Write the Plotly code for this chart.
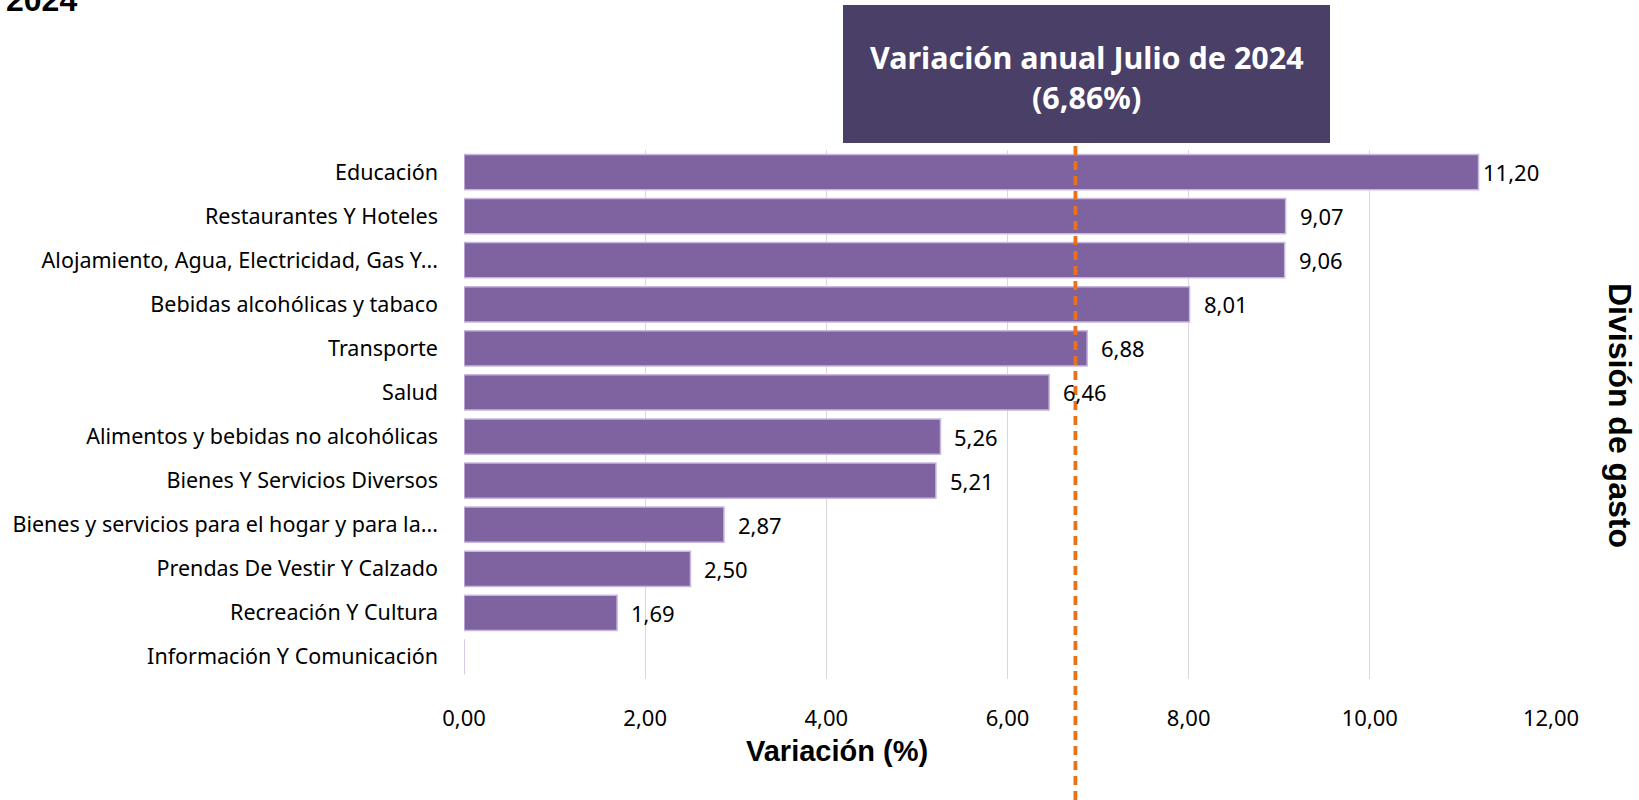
import plotly.graph_objects as go

categories = [
    "Educación",
    "Restaurantes Y Hoteles",
    "Alojamiento, Agua, Electricidad, Gas Y...",
    "Bebidas alcohólicas y tabaco",
    "Transporte",
    "Salud",
    "Alimentos y bebidas no alcohólicas",
    "Bienes Y Servicios Diversos",
    "Bienes y servicios para el hogar y para la...",
    "Prendas De Vestir Y Calzado",
    "Recreación Y Cultura",
    "Información Y Comunicación",
]
values = [11.20, 9.07, 9.06, 8.01, 6.88, 6.46, 5.26, 5.21, 2.87, 2.50, 1.69, 0.0]
x_ticks = [0, 2, 4, 6, 8, 10, 12]
x_tick_labels = ["0,00", "2,00", "4,00", "6,00", "8,00", "10,00", "12,00"]
annual_label = "Variación anual Julio de 2024"
annual_value_label = "(6,86%)"
ref_line_x = 6.75  # position of the dashed line as drawn in the reference

BAR = "#7F63A0"
BOX = "#4A3F67"
ORANGE = "#E8711A"
FONT = "Noto Sans"
BOLD = "Liberation Sans"

W, H = 1639, 800
PX0, PX1, PY0, PY1 = 464, 1551, 150, 679
PW, PH = PX1 - PX0, PY1 - PY0


def fx(sx):
    return (sx - PX0) / PW


def fy(sy):
    return (PY1 - sy) / PH


fig = go.Figure()
fig.add_trace(go.Bar(
    y=categories, x=values, orientation="h",
    marker=dict(color=BAR, line=dict(color="#C9B8DE", width=1.5)),
    hoverinfo="skip", showlegend=False,
))

annotations = []
for c, v in zip(categories, values):
    if v <= 0:
        continue
    annotations.append(dict(
        x=v, y=c, xref="x", yref="y", text=f"{v:.2f}".replace(".", ","),
        showarrow=False, xanchor="left", yanchor="middle",
        xshift=2 if v > 11 else 12,
        font=dict(family=FONT, size=22, color="#000000"),
    ))

# title box text
annotations.append(dict(x=fx(1086.5), y=fy(57), xref="paper", yref="paper",
                        text=f"<b>{annual_label}</b>", showarrow=False,
                        xanchor="center", yanchor="middle",
                        font=dict(family=FONT, size=30.5, color="#FFFFFF")))
annotations.append(dict(x=fx(1086.5), y=fy(97), xref="paper", yref="paper",
                        text=f"<b>{annual_value_label}</b>", showarrow=False,
                        xanchor="center", yanchor="middle",
                        font=dict(family=FONT, size=30.5, color="#FFFFFF")))
# x axis title
annotations.append(dict(x=fx(837), y=fy(751), xref="paper", yref="paper",
                        text="<b>Variación (%)</b>", showarrow=False,
                        xanchor="center", yanchor="middle",
                        font=dict(family=BOLD, size=29, color="#000000")))
# right axis title
annotations.append(dict(x=fx(1620), y=fy(415), xref="paper", yref="paper",
                        text="<b>División de gasto</b>", showarrow=False, textangle=90,
                        xanchor="center", yanchor="middle",
                        font=dict(family=BOLD, size=32, color="#000000")))
# clipped title remnant
annotations.append(dict(x=fx(4), y=fy(20), xref="paper", yref="paper",
                        text="<b>2024</b>", showarrow=False,
                        xanchor="left", yanchor="bottom",
                        font=dict(family=BOLD, size=32, color="#000000")))

shapes = [
    dict(type="rect", xref="paper", yref="paper",
         x0=fx(843), x1=fx(1330), y0=fy(143), y1=fy(5),
         fillcolor=BOX, line=dict(width=0), layer="above"),
    dict(type="line", xref="x", yref="paper", x0=ref_line_x, x1=ref_line_x,
         y0=fy(800), y1=fy(143),
         line=dict(color=ORANGE, width=3.8, dash="9px,6px"), layer="above"),
]

fig.update_layout(
    width=W, height=H,
    margin=dict(l=PX0, r=W - PX1, t=PY0, b=H - PY1, autoexpand=False),
    paper_bgcolor="white", plot_bgcolor="white",
    bargap=0.2,
    separators=",.",
    annotations=annotations, shapes=shapes,
    font=dict(family=FONT, size=22, color="#000000"),
)
fig.update_xaxes(range=[0, 12], tickvals=x_ticks, ticktext=x_tick_labels,
                 showgrid=True, gridcolor="#D9D9D9", gridwidth=1,
                 zeroline=False, showline=False, ticks="", automargin=False,
                 ticklabelstandoff=24,
                 tickfont=dict(family=FONT, size=22, color="#000000"))
fig.update_yaxes(categoryorder="array", categoryarray=categories, autorange="reversed",
                 showgrid=False, zeroline=False, showline=False, ticks="", automargin=False,
                 ticklabelstandoff=25,
                 tickfont=dict(family=FONT, size=21.5, color="#000000"))

fig.write_html("out.html", config={"displayModeBar": False},
               post_script="document.body.style.margin='0';document.body.style.overflow='hidden';")
